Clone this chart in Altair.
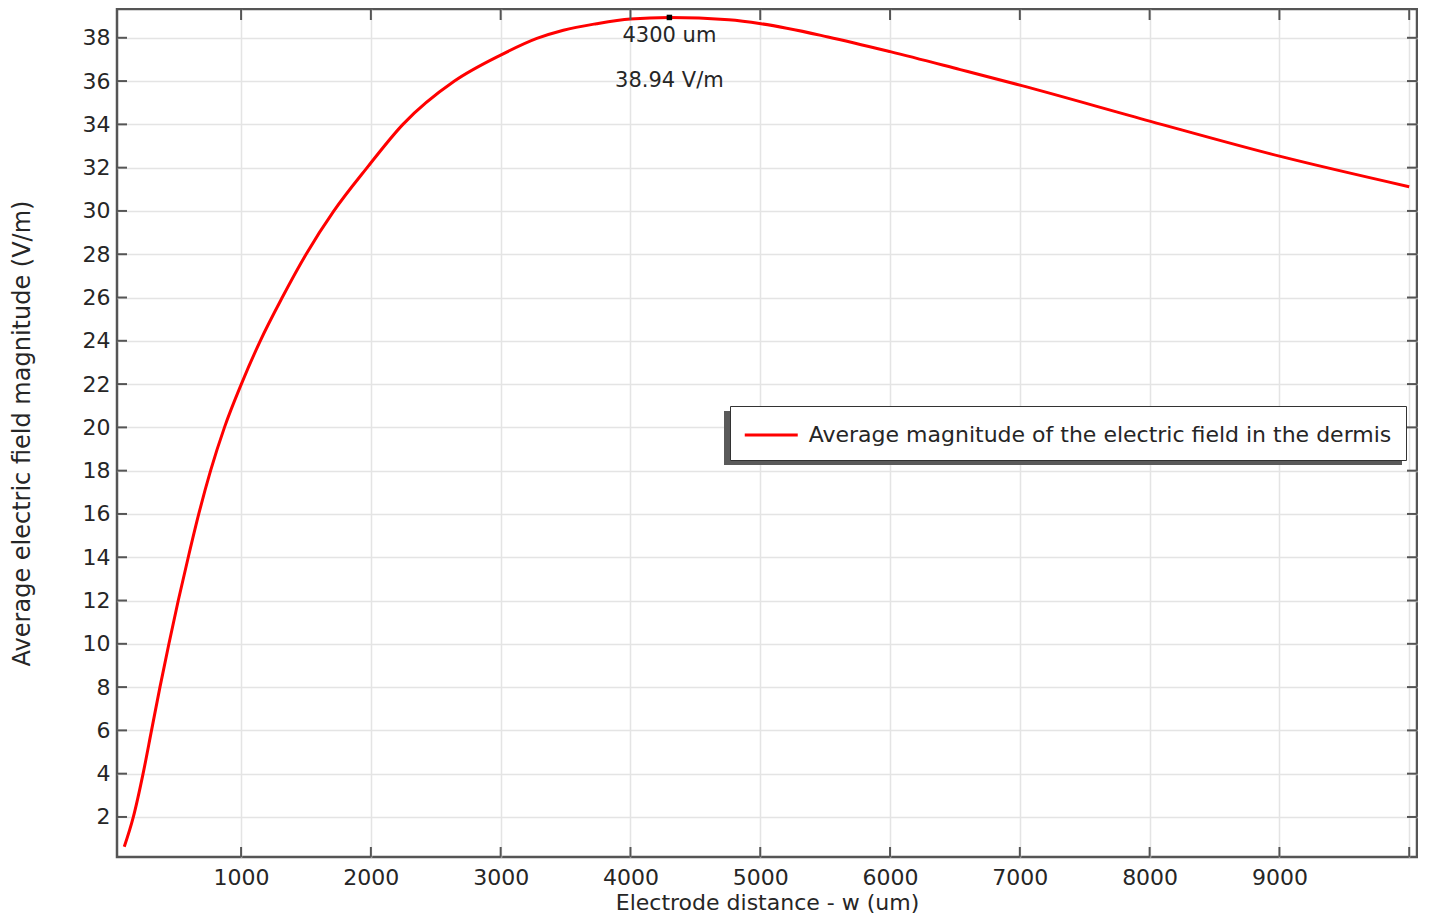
import pandas as pd
import altair as alt

# electrode distance w (um) vs average |E| in the dermis (V/m)
w_um = [100, 170, 245, 310, 375, 444, 516, 593, 674, 765, 872, 1002, 1148, 1317, 1501,
        1715, 1971, 2247, 2644, 3000, 3279, 3483, 3738, 4000, 4300, 4757, 5005,
        5522, 6001, 6541, 7008, 8007, 9008, 10000]
e_field = [0.62, 2.0, 4.0, 6.0, 8.0, 10.0, 12.0, 14.0, 16.0, 18.0, 20.0, 22.0, 24.0, 26.0, 28.0,
           30.0, 32.0, 34.0, 36.0, 37.2, 37.97, 38.35, 38.65, 38.87, 38.94, 38.83, 38.65,
           38.04, 37.36, 36.53, 35.80, 34.14, 32.52, 31.12]

series_name = "Average magnitude of the electric field in the dermis"

peak_w = [4300]
peak_e = [38.94]
peak_labels = ["4300 um", "38.94 V/m"]

x_ticks = [1000, 2000, 3000, 4000, 5000, 6000, 7000, 8000, 9000, 10000]
y_ticks = [2, 4, 6, 8, 10, 12, 14, 16, 18, 20, 22, 24, 26, 28, 30, 32, 34, 36, 38]

W = 1300
H = 848
FONT = "DejaVu Sans"
FRAME = "#555555"
TEXT = "#262626"

curve = pd.DataFrame({"w": w_um, "E": e_field, "series": series_name})
peak = pd.DataFrame({"w": peak_w, "E": peak_e})
xt = pd.DataFrame({"w": x_ticks})
yt = pd.DataFrame({"E": y_ticks})

xscale = alt.Scale(domain=[44, 10060], nice=False, zero=False)
yscale = alt.Scale(domain=[0.15, 39.33], nice=False, zero=False)

xaxis = alt.Axis(values=x_ticks, format="d", grid=True, ticks=False, domain=False,
                 labelExpr="datum.value >= 10000 ? '' : datum.label",
                 labelPadding=10, titlePadding=4, titleFontSize=22)
yaxis = alt.Axis(values=y_ticks, format="d", grid=True, ticks=False, domain=False,
                 labelPadding=7, titlePadding=48, titleFontSize=24)

X_TITLE = "Electrode distance - w (um)"
Y_TITLE = "Average electric field magnitude (V/m)"


def xenc():
    return alt.X("w:Q", scale=xscale, axis=xaxis, title=X_TITLE)


def yenc():
    return alt.Y("E:Q", scale=yscale, axis=yaxis, title=Y_TITLE)


# flat custom symbol so the 53px line does not make the legend box tall
legend = alt.Legend(orient="none", legendX=613, legendY=397,
                    symbolType="M-2,0H2", symbolSize=702, symbolStrokeWidth=3,
                    symbolStrokeColor="#ff0000", symbolOffset=12.25, labelOffset=22.5,
                    labelFontSize=22, labelFont=FONT, labelColor=TEXT,
                    labelLimit=900, padding=14,
                    strokeColor="#333333", fillColor="white")

line = alt.Chart(curve).mark_line(strokeWidth=3, interpolate="monotone").encode(
    x=xenc(),
    y=yenc(),
    color=alt.Color("series:N", title=None,
                    scale=alt.Scale(domain=[series_name], range=["#ff0000"]),
                    legend=legend),
)

# drop shadow of the legend box
shadow = alt.Chart(pd.DataFrame({"a": [0]})).mark_rect(color="#5a5a5a").encode(
    x=alt.value(607), x2=alt.value(1285), y=alt.value(402), y2=alt.value(456)
)

marker = alt.Chart(peak).mark_square(size=30, color="black", opacity=1).encode(
    x=xenc(), y=yenc()
)

txt_w = alt.Chart(peak).mark_text(dy=19, fontSize=21, font=FONT, color=TEXT).encode(
    x=xenc(), y=yenc(), text=alt.value(peak_labels[0])
)
txt_e = alt.Chart(peak).mark_text(dy=64, fontSize=21, font=FONT, color=TEXT).encode(
    x=xenc(), y=yenc(), text=alt.value(peak_labels[1])
)

# inward ticks on all four sides
tick_style = dict(color=FRAME, strokeWidth=2)
bottom_ticks = alt.Chart(xt).mark_rule(**tick_style).encode(
    x=xenc(), y=alt.value(H), y2=alt.value(H - 10))
top_ticks = alt.Chart(xt).mark_rule(**tick_style).encode(
    x=xenc(), y=alt.value(0), y2=alt.value(11))
left_ticks = alt.Chart(yt).mark_rule(**tick_style).encode(
    y=yenc(), x=alt.value(0), x2=alt.value(10))
right_ticks = alt.Chart(yt).mark_rule(**tick_style).encode(
    y=yenc(), x=alt.value(W), x2=alt.value(W - 10))

chart = alt.layer(
    shadow, line, marker, txt_w, txt_e,
    bottom_ticks, top_ticks, left_ticks, right_ticks
).properties(
    width=W, height=H, padding={"left": 2, "top": 0, "right": 0, "bottom": 0}
).configure_view(
    stroke=FRAME, strokeWidth=2.5
).configure_axis(
    labelFont=FONT, labelFontSize=22, labelColor=TEXT,
    titleFont=FONT, titleColor=TEXT, titleFontWeight="normal",
    gridColor="#e4e4e4", gridWidth=1.5
)

chart.save("out.html", embed_options={"renderer": "svg", "actions": False})
